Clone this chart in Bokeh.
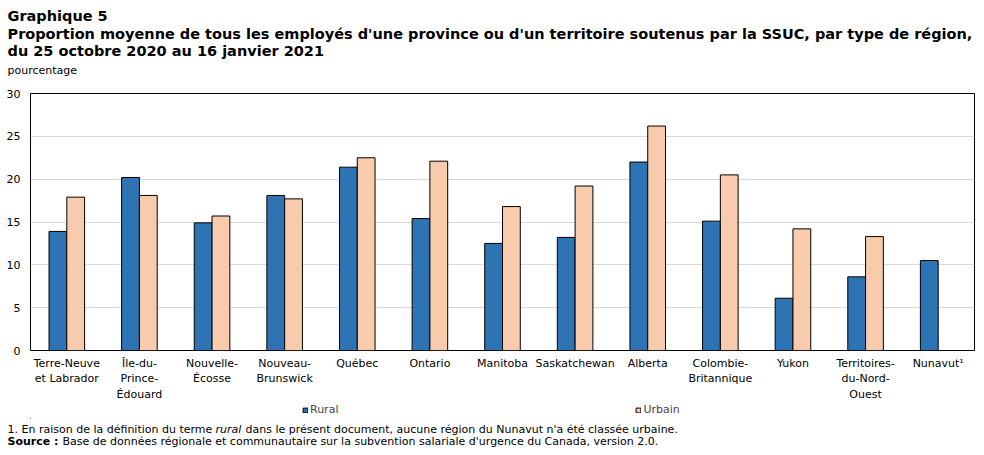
from bokeh.plotting import figure
from bokeh.models import ColumnDataSource, FactorRange, Legend, LegendItem, FixedTicker, Title, Range1d
from bokeh.layouts import column
from bokeh.transform import dodge
from bokeh.embed import file_html
from bokeh.resources import INLINE

regions = ["Terre-Neuve\net Labrador", "Île-du-\nPrince-\nÉdouard", "Nouvelle-\nÉcosse",
           "Nouveau-\nBrunswick", "Québec", "Ontario", "Manitoba", "Saskatchewan", "Alberta",
           "Colombie-\nBritannique", "Yukon", "Territoires-\ndu-Nord-\nOuest", "Nunavut¹"]
rural = [13.9, 20.2, 14.9, 18.1, 21.4, 15.4, 12.5, 13.2, 22.0, 15.1, 6.1, 8.6, 10.5]
urbain = [17.9, 18.1, 15.7, 17.7, 22.5, 22.1, 16.8, 19.2, 26.2, 20.5, 14.2, 13.3, None]
y_ticks = [0, 5, 10, 15, 20, 25, 30]
series = ["Rural", "Urbain"]
colors = ["#2e74b5", "#f7cbac"]

FONT = "DejaVu Sans"
W = 984

src_r = ColumnDataSource(dict(region=regions, value=rural))
ur_regions = [r for r, v in zip(regions, urbain) if v is not None]
ur_values = [v for v in urbain if v is not None]
src_u = ColumnDataSource(dict(region=ur_regions, value=ur_values))

p = figure(width=W, height=403, x_range=FactorRange(factors=regions), y_range=(0, 30),
           output_backend="svg", toolbar_location=None,
           min_border_left=30, min_border_right=10, min_border_top=93, min_border_bottom=53)
p.background_fill_color = "white"
p.border_fill_color = "white"
p.outline_line_color = "black"
p.outline_line_width = 1

p.vbar(x=dodge("region", -0.1225, range=p.x_range), top="value", width=0.245, source=src_r,
       fill_color=colors[0], line_color="black", line_width=1)
p.vbar(x=dodge("region", 0.1225, range=p.x_range), top="value", width=0.245, source=src_u,
       fill_color=colors[1], line_color="black", line_width=1)

p.xgrid.grid_line_color = None
p.ygrid.grid_line_color = "#d9d9d9"
p.yaxis.ticker = FixedTicker(ticks=y_ticks)
for ax in (p.xaxis, p.yaxis):
    ax.axis_line_color = None
    ax.major_tick_line_color = None
    ax.minor_tick_line_color = None
    ax.major_tick_out = 0
    ax.major_tick_in = 0
    ax.major_label_text_font = FONT
    ax.major_label_text_font_size = "11px"
    ax.major_label_text_color = "black"
p.yaxis.major_label_standoff = 10
p.xaxis.major_label_standoff = 6


def spacer(fig, place, height):
    # an invisible blank title whose row is `height` px tall
    fig.add_layout(Title(text=" ", standoff=height - 15, text_font=FONT, text_font_size="11px"), place)


def txt(fig, place, text, x, size="11px", style="normal"):
    # zero-height row: text is centred on the row boundary; x is the page position
    fig.add_layout(Title(text=text, align="left", offset=x - 30, standoff=-60, vertical_align="middle",
                         text_font=FONT, text_font_size=size, text_font_style=style,
                         text_color="black"), place)


# ---- header (above panels stack upward from the frame) ----
spacer(p, "above", 23)
txt(p, "above", "pourcentage", 7)
spacer(p, "above", 20)
txt(p, "above", "du 25 octobre 2020 au 16 janvier 2021", 7, "14.5px", "bold")
spacer(p, "above", 17)
txt(p, "above", "Proportion moyenne de tous les employés d'une province ou d'un territoire soutenus par la SSUC, par type de région,", 7, "14.5px", "bold")
spacer(p, "above", 18)
txt(p, "above", "Graphique 5", 7, "14.5px", "bold")

# ---- legend + notes in a strip under the chart ----
bot = figure(width=W, height=52, x_range=Range1d(0, 1), y_range=Range1d(0, 1),
             output_backend="svg", toolbar_location=None, x_axis_type=None, y_axis_type=None,
             min_border_left=30, min_border_right=10, min_border_top=0, min_border_bottom=37)
bot.outline_line_color = None
bot.grid.grid_line_color = None
bot.background_fill_color = "white"
bot.border_fill_color = "white"
items = []
for name, col in zip(series, colors):
    # legend keys only: a single bar placed well outside the visible strip
    rr = bot.vbar(x=[-50], bottom=[-50], top=[-49], width=0.1, fill_color=col,
                  line_color="black", line_width=1)
    items.append(LegendItem(label=name, renderers=[rr]))
legend = Legend(items=items, orientation="horizontal", location=(272, 2), spacing=297,
                glyph_width=6, glyph_height=6, label_standoff=2, padding=0, margin=0,
                border_line_color=None, background_fill_alpha=0,
                label_text_font=FONT, label_text_font_size="11px", label_height=13)
bot.add_layout(legend)

spacer(bot, "below", 11)
txt(bot, "below", "1. En raison de la définition du terme", 7)
txt(bot, "below", "rural", 215, style="italic")
txt(bot, "below", "dans le présent document, aucune région du Nunavut n'a été classée urbaine.", 245)
spacer(bot, "below", 12)
txt(bot, "below", "Source :", 7, style="bold")
txt(bot, "below", "Base de données régionale et communautaire sur la subvention salariale d'urgence du Canada, version 2.0.", 62)

layout = column(p, bot, spacing=0)
open("out.html", "w").write(file_html(layout, INLINE))
